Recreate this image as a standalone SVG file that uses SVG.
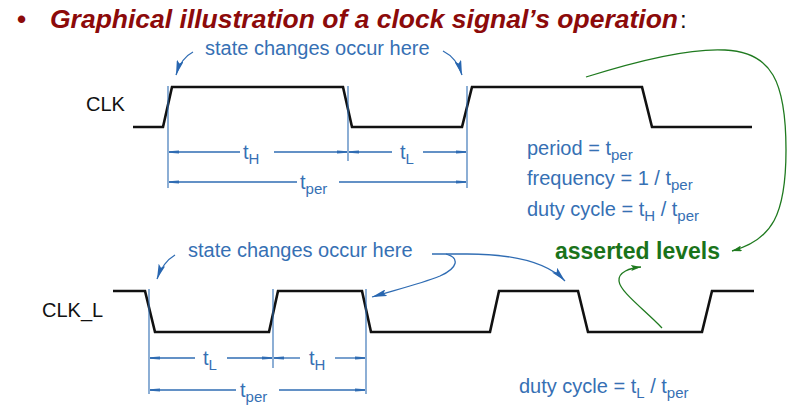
<svg xmlns="http://www.w3.org/2000/svg" width="796" height="417" viewBox="0 0 796 417">
<style>
.title{font-family:"Liberation Sans",Arial,sans-serif;font-size:26px;font-weight:bold;font-style:italic;fill:#8c0a0a}
.lbl{font-family:"Liberation Sans",Arial,sans-serif;font-size:20px;fill:#111}
.bt{font-family:"Liberation Sans",Arial,sans-serif;font-size:20px;fill:#3670b4}
.sub{font-size:15px}
.gt{font-family:"Liberation Sans",Arial,sans-serif;font-size:23px;font-weight:bold;fill:#1a731a}
.wave{fill:none;stroke:#111;stroke-width:2.6;stroke-linejoin:miter}
.ext{stroke:#2f6cb3;stroke-width:1.1;fill:none}
.dim{stroke:#2f6cb3;stroke-width:1.3;fill:none;marker-end:url(#dimArrow)}
.barrow{stroke:#2f6cb3;stroke-width:1.3;fill:none;marker-end:url(#blueArrow)}
.garrow{stroke:#1f7a1f;stroke-width:1.3;fill:none;marker-end:url(#greenArrow)}
</style>
<defs>
<marker id="dimArrow" viewBox="0 0 10 4" refX="10" refY="2" markerWidth="10" markerHeight="4" markerUnits="userSpaceOnUse" orient="auto">
<path d="M0,0.6 L10,1.2 L10,2.8 L0,3.4 z" fill="#2f6cb3"/>
</marker>
<marker id="blueArrow" viewBox="0 0 15 7" refX="15" refY="3.5" markerWidth="15" markerHeight="7" markerUnits="userSpaceOnUse" orient="auto">
<path d="M0,0 L15,3.5 L0,7 L3,3.5 z" fill="#2866b0"/>
</marker>
<marker id="greenArrow" viewBox="0 0 10 6" refX="10" refY="3" markerWidth="10" markerHeight="6" markerUnits="userSpaceOnUse" orient="auto">
<path d="M0,0 L10,3 L0,6 L2,3 z" fill="#1f7a1f"/>
</marker>
</defs>
<rect width="796" height="417" fill="#ffffff"/>

<g id="title">
<text x="17" y="28" class="title" style="font-style:normal">•</text>
<text x="50" y="28" class="title" textLength="628" lengthAdjust="spacingAndGlyphs">Graphical illustration of a clock signal’s operation</text>
<text x="680" y="28" class="lbl" style="font-size:24px">:</text>
</g>

<g id="clk">
<text x="86" y="111" class="lbl">CLK</text>
<polyline class="wave" points="133,127 163,127 172,87 343,87 352,127 462,127 472,87 642,87 652,127 752,127"/>
</g>

<g id="clk_l">
<text x="42" y="317" class="lbl">CLK_L</text>
<polyline class="wave" points="113,291 145,291 155,332 269,332 278,291 362,291 371,332 490,332 499,291 578,291 588,332 702,332 712,291 754,291"/>
</g>

<g id="top-dimensions">
<line class="ext" x1="168" y1="86" x2="168" y2="188"/>
<line class="ext" x1="348" y1="86" x2="348" y2="161"/>
<line class="ext" x1="467" y1="86" x2="467" y2="188"/>
<line class="dim" x1="240" y1="152" x2="169" y2="152"/>
<line class="dim" x1="274" y1="152" x2="347" y2="152"/>
<line class="dim" x1="392" y1="152" x2="349" y2="152"/>
<line class="dim" x1="423" y1="152" x2="466" y2="152"/>
<line class="dim" x1="297" y1="182" x2="169" y2="182"/>
<line class="dim" x1="339" y1="182" x2="466" y2="182"/>
<text x="243" y="159" class="bt">t<tspan class="sub" dy="5">H</tspan></text>
<text x="400" y="159" class="bt">t<tspan class="sub" dy="5">L</tspan></text>
<text x="300" y="189" class="bt">t<tspan class="sub" dy="5">per</tspan></text>
</g>

<g id="bottom-dimensions">
<line class="ext" x1="149" y1="289" x2="149" y2="394"/>
<line class="ext" x1="273" y1="289" x2="273" y2="368"/>
<line class="ext" x1="366" y1="289" x2="366" y2="394"/>
<line class="dim" x1="195" y1="358" x2="150" y2="358"/>
<line class="dim" x1="227" y1="358" x2="272" y2="358"/>
<line class="dim" x1="300" y1="358" x2="274" y2="358"/>
<line class="dim" x1="335" y1="358" x2="365" y2="358"/>
<line class="dim" x1="236" y1="390" x2="150" y2="390"/>
<line class="dim" x1="279" y1="390" x2="365" y2="390"/>
<text x="203" y="365" class="bt">t<tspan class="sub" dy="5">L</tspan></text>
<text x="309" y="365" class="bt">t<tspan class="sub" dy="5">H</tspan></text>
<text x="240" y="397" class="bt">t<tspan class="sub" dy="5">per</tspan></text>
</g>

<g id="top-note">
<text x="205" y="55" class="bt">state changes occur here</text>
</g>
<g id="bottom-note">
<text x="188" y="257" class="bt">state changes occur here</text>
</g>

<g id="formulas">
<text x="527" y="155" class="bt">period = t<tspan class="sub" dy="5">per</tspan></text>
<text x="527" y="185" class="bt">frequency = 1 / t<tspan class="sub" dy="5">per</tspan></text>
<text x="527" y="216" class="bt">duty cycle = t<tspan class="sub" dy="5">H</tspan><tspan dy="-5"> / t</tspan><tspan class="sub" dy="5">per</tspan></text>
<text x="519" y="393" class="bt">duty cycle = t<tspan class="sub" dy="5">L</tspan><tspan dy="-5"> / t</tspan><tspan class="sub" dy="5">per</tspan></text>
</g>

<g id="asserted">
<text x="555" y="259" class="gt">asserted levels</text>
</g>

<g id="connectors">
<path class="barrow" d="M193,52 Q181,58 176,75"/>
<path class="barrow" d="M443,51 Q457,58 462,75"/>
<path class="barrow" d="M175,255 Q163,262 157,279"/>
<path class="barrow" d="M432,254 L467,254 C505,254 545,260 565,281"/>
<path class="barrow" d="M446,254 C460,258 458,268 440,276 C420,284 395,290 372,297"/>
<path class="garrow" d="M586,77 C640,60 690,48 725,50 C772,52 786,82 786,150 C786,215 772,240 732,251"/>
<path class="garrow" d="M662,328 C645,310 620,292 619,281 C618,272 630,268 641,267"/>
</g>
</svg>
